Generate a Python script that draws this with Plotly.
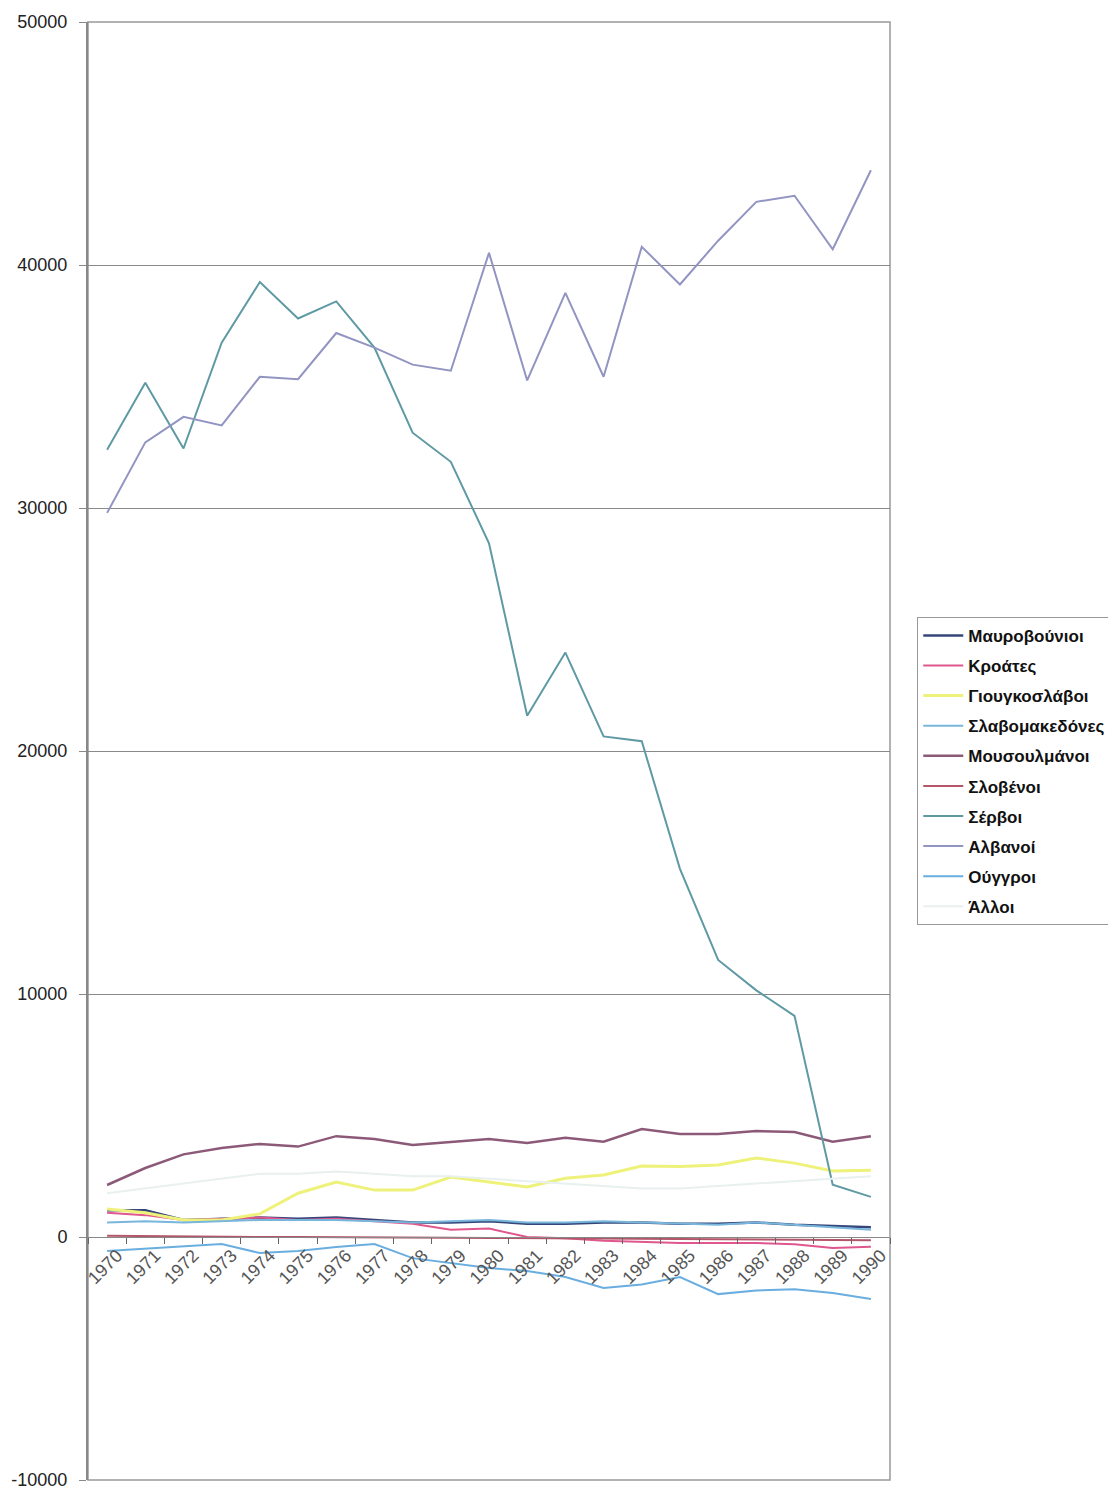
import plotly.graph_objects as go

years = [str(y) for y in range(1970, 1991)]

y_tick_values = [-10000, 0, 10000, 20000, 30000, 40000, 50000]
y_tick_labels = ["-10000", "0", "10000", "20000", "30000", "40000", "50000"]

series_names = ["Μαυροβούνιοι", "Κροάτες", "Γιουγκοσλάβοι", "Σλαβομακεδόνες",
                "Μουσουλμάνοι", "Σλοβένοι", "Σέρβοι", "Αλβανοί", "Ούγγροι", "Άλλοι"]

mavrovounioi = [1100, 1100, 700, 750, 800, 750, 800, 700, 600, 600, 650,
                550, 550, 600, 600, 550, 550, 600, 500, 450, 400]
kroates = [1000, 900, 700, 750, 800, 700, 750, 650, 550, 300, 350,
           0, -50, -150, -200, -250, -250, -250, -300, -450, -400]
giougkoslavoi = [1150, 1000, 700, 700, 950, 1800, 2260, 1930, 1930, 2470, 2260,
                 2060, 2420, 2550, 2920, 2900, 2960, 3250, 3040, 2720, 2750]
slavomakedones = [600, 650, 600, 650, 700, 700, 700, 650, 600, 650, 700,
                  600, 600, 650, 600, 550, 500, 600, 500, 400, 300]
mousoulmanoi = [2140, 2840, 3400, 3660, 3830, 3720, 4150, 4030, 3790, 3900, 4030,
                3870, 4080, 3920, 4440, 4240, 4240, 4360, 4320, 3920, 4150]
slovenoi = [50, 30, 20, 0, 0, 0, 0, 0, -20, -30, -40,
            -50, -60, -80, -100, -100, -110, -120, -120, -130, -130]
servoi = [32400, 35150, 32450, 36800, 39300, 37800, 38500, 36600, 33100, 31900, 28550,
          21450, 24050, 20600, 20400, 15150, 11400, 10150, 9100, 2150, 1650]
alvanoi = [29800, 32700, 33750, 33400, 35400, 35300, 37200, 36600, 35900, 35650, 40500,
           35250, 38850, 35400, 40750, 39200, 41000, 42600, 42850, 40650, 43900]
oungroi = [-580, -490, -410, -290, -660, -580, -410, -290, -870, -1070, -1280,
           -1400, -1650, -2100, -1950, -1650, -2350, -2200, -2150, -2300, -2550]
alloi = [1800, 2000, 2200, 2400, 2600, 2600, 2700, 2600, 2500, 2500, 2400,
         2300, 2200, 2100, 2000, 2000, 2100, 2200, 2300, 2400, 2500]

values = [mavrovounioi, kroates, giougkoslavoi, slavomakedones, mousoulmanoi,
          slovenoi, servoi, alvanoi, oungroi, alloi]

colors = ["#35467a", "#e0578e", "#eef27a", "#78b6dc", "#8c5a78",
          "#b4566a", "#5f9aa4", "#9294c2", "#6aaee0", "#e8f0f0"]
widths = [2.5, 2, 3, 2, 2.5, 2, 2, 2, 2, 2]

fig = go.Figure()
for name, vals, col, w in zip(series_names, values, colors, widths):
    fig.add_trace(go.Scatter(x=years, y=vals, mode="lines", name=name,
                             legendgroup=name,
                             line=dict(color=col, width=w)))

fig.update_layout(
    width=1108, height=1482,
    margin=dict(l=80, r=226, t=14, b=10, autoexpand=False),
    paper_bgcolor="white", plot_bgcolor="white",
    font=dict(family="Liberation Sans, Arial, sans-serif", color="#222"),
    showlegend=True,
    legend=dict(x=1.034, y=0.592, xanchor="left", yanchor="top",
                bordercolor="#999", borderwidth=1, bgcolor="white",
                font=dict(size=17, color="#111", weight="bold"), itemwidth=40,
                tracegroupgap=5),
    xaxis=dict(type="category", range=[-0.5, 20.5], anchor="free", position=1/6,
               showline=True, linecolor="#888", linewidth=1,
               ticks="outside", tickson="boundaries", ticklen=6, tickcolor="#666",
               tickangle=-45, tickfont=dict(size=18, color="#555"),
               ticklabelshift=10,
               showgrid=False, zeroline=False),
    yaxis=dict(range=[-10000, 50000], tickmode="array",
               tickvals=y_tick_values, ticktext=y_tick_labels,
               showgrid=True, ticklabeloverflow="allow",
               gridcolor="#8a8a8a", gridwidth=1, zeroline=False,
               showline=True, linecolor="#888", linewidth=2,
               ticks="outside", ticklen=7, tickcolor="#888",
               ticklabelstandoff=8,
               tickfont=dict(size=18, color="#222")),
    shapes=[dict(type="rect", xref="paper", yref="paper", x0=0, y0=0, x1=1, y1=1,
                 line=dict(color="#999", width=1.5), layer="below")],
)

fig.write_html("out.html")
